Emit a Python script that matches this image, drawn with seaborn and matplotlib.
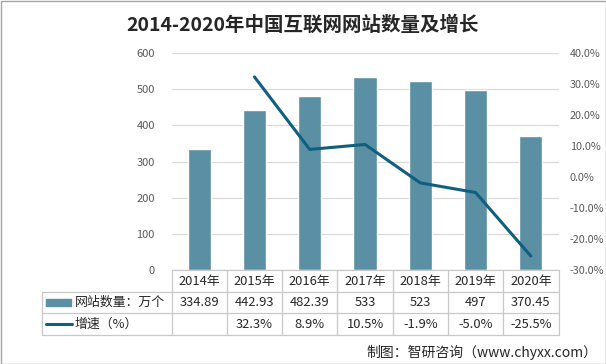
import matplotlib
matplotlib.use("Agg")
import matplotlib.pyplot as plt
from matplotlib.lines import Line2D
from matplotlib.patches import Rectangle
import seaborn as sns
import pandas as pd

# chart data
years = ["2014年", "2015年", "2016年", "2017年", "2018年", "2019年", "2020年"]
site_counts = [334.89, 442.93, 482.39, 533, 523, 497, 370.45]
site_labels = ["334.89", "442.93", "482.39", "533", "523", "497", "370.45"]
growth = [None, 32.3, 8.9, 10.5, -1.9, -5.0, -25.5]
growth_labels = ["", "32.3%", "8.9%", "10.5%", "-1.9%", "-5.0%", "-25.5%"]

title = "2014-2020年中国互联网网站数量及增长"
bar_name = "网站数量：万个"
line_name = "增速（%）"
source = "制图：智研咨询（www.chyxx.com）"

bar_color = "#5b8fa4"
line_color = "#0f5f80"
grid_color = "#d9d9d9"
tick_color = "#595959"
table_color = "#c8c8c8"

sns.set_style("white")
plt.rcParams["font.family"] = ["Noto Sans CJK SC", "DejaVu Sans"]

df = pd.DataFrame({"year": years, "count": site_counts, "growth": growth})
df["pos"] = range(len(years))

W, H = 606, 364
fig = plt.figure(figsize=(W / 100, H / 100), dpi=100)
ax = fig.add_axes([171.5 / W, 1 - 270 / H, 387 / W, 217 / H])

sns.barplot(data=df, x="year", y="count", color=bar_color, width=0.42,
            saturation=1, ax=ax, zorder=2)
ax.set_ylim(0, 600)
ax.set_yticks(range(0, 601, 100))
ax.set_xlim(-0.5, 6.5)
ax.yaxis.grid(True, color=grid_color, linewidth=0.9, zorder=0)
ax.set_axisbelow(True)
ax.set_xlabel("")
ax.set_ylabel("")
ax.set_xticks([])
ax.tick_params(axis="y", labelsize=8, colors=tick_color, length=0, pad=12)
for s in ax.spines.values():
    s.set_visible(False)

ax2 = ax.twinx()
sns.lineplot(data=df.dropna(), x="pos", y="growth", color=line_color,
             linewidth=2.2, ax=ax2, zorder=3)
ax2.set_ylim(-30, 40)
ax2.set_yticks(range(-30, 41, 10))
ax2.set_yticklabels([f"{v:.1f}%" for v in range(-30, 41, 10)])
ax2.set_xlim(-0.5, 6.5)
ax2.set_xlabel("")
ax2.set_ylabel("")
ax2.tick_params(axis="y", labelsize=7.8, colors=tick_color, length=0, pad=8)
for s in ax2.spines.values():
    s.set_visible(False)

# data table under the plot
ax_l, ax_w = 171.5 / W, 387 / W
col_edges = [ax_l + i * ax_w / len(years) for i in range(len(years) + 1)]
tab_left = 42 / W
rows_y = [1 - y / H for y in (270, 292, 313, 335)]

def hline(x0, x1, y):
    fig.add_artist(Line2D([x0, x1], [y, y], color=table_color, lw=0.9))

def vline(x, y0, y1):
    fig.add_artist(Line2D([x, x], [y0, y1], color=table_color, lw=0.9))

hline(col_edges[0], col_edges[-1], rows_y[0])
for y in rows_y[1:]:
    hline(tab_left, col_edges[-1], y)
for x in col_edges:
    vline(x, rows_y[0], rows_y[-1])
vline(tab_left, rows_y[1], rows_y[-1])

text_kw = dict(fontsize=9.3, color="#262626", ha="center", va="center")
row_mid = [(rows_y[i] + rows_y[i + 1]) / 2 for i in range(3)]
for i in range(len(years)):
    cx = (col_edges[i] + col_edges[i + 1]) / 2
    fig.text(cx, row_mid[0], years[i], **text_kw)
    fig.text(cx, row_mid[1], site_labels[i], **text_kw)
    fig.text(cx, row_mid[2], growth_labels[i], **text_kw)

fig.add_artist(Rectangle((46 / W, row_mid[1] - 3.5 / H), 25 / W, 7 / H,
                         color=bar_color, transform=fig.transFigure))
fig.add_artist(Line2D([46 / W, 72 / W], [row_mid[2], row_mid[2]],
                      color=line_color, lw=2.2))
fig.text(75 / W, row_mid[1], bar_name, fontsize=9.3, color="#262626", va="center")
fig.text(75 / W, row_mid[2], line_name, fontsize=9.3, color="#262626", va="center")

fig.text(303 / W, 1 - 25 / H, title, fontsize=14, fontweight="bold",
         color="#262626", ha="center", va="center")
fig.text(597 / W, 1 - 352 / H, source, fontsize=10, color="#262626",
         ha="right", va="center")

fig.add_artist(Rectangle((0.5 / W, 0.5 / H), 1 - 1 / W, 1 - 1 / H, fill=False,
                         edgecolor="#a6a6a6", lw=1, transform=fig.transFigure))

fig.savefig("out.png", dpi=100)
